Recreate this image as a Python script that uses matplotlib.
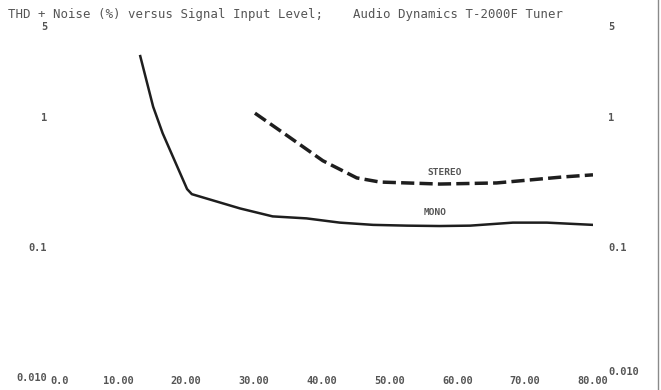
"""THD + Noise vs Signal Input Level — Audio Dynamics T-2000F Tuner (scan recreation)."""

import matplotlib

matplotlib.use("Agg")
import matplotlib.pyplot as plt
from matplotlib.lines import Line2D

# Signal input level (x) and THD + noise in % (y).
MONO_X = [13.3, 15.2, 16.6, 20.2, 20.9, 28.0, 32.8, 37.8, 42.7, 47.6, 52.6, 57.4,
          61.9, 68.2, 73.2, 80.0]
MONO_Y = [2.94, 1.20, 0.750, 0.279, 0.255, 0.198, 0.172, 0.166, 0.154, 0.148, 0.146,
          0.145, 0.146, 0.154, 0.154, 0.148]

STEREO_X = [30.2, 35.3, 40.2, 45.2, 48.6, 52.6, 57.4, 65.8, 70.7, 75.6, 80.0]
STEREO_Y = [1.07, 0.698, 0.461, 0.340, 0.316, 0.311, 0.305, 0.311, 0.328, 0.346, 0.359]

X_TICKS = [0, 10, 20, 30, 40, 50, 60, 70, 80]
X_LABELS = ["0.0", "10.00", "20.00", "30.00", "40.00", "50.00", "60.00", "70.00", "80.00"]
Y_TICKS = [0.01, 0.1, 1, 5]
Y_LABELS = ["0.010", "0.1", "1", "5"]

TITLE = "THD + Noise (%) versus Signal Input Level;    Audio Dynamics T-2000F Tuner"

INK = "#1e1e1e"
GREY = "#555555"
FONT = "DejaVu Sans Mono"

fig = plt.figure(figsize=(6.61, 3.90), dpi=100)
ax = fig.add_axes([0.0756, 0.0333, 0.8215, 0.8997])

ax.plot(MONO_X, MONO_Y, color=INK, lw=1.8, solid_joinstyle="round")
ax.plot(STEREO_X, STEREO_Y, color=INK, lw=2.5, dashes=(3.8, 1.5))

ax.text(58.2, 0.372, "STEREO", fontsize=6.8, color=GREY, family=FONT,
        ha="center", va="center", fontweight="bold")
ax.text(56.7, 0.185, "MONO", fontsize=6.8, color=GREY, family=FONT,
        ha="center", va="center", fontweight="bold")

ax.set_yscale("log")
ax.set_xlim(0, 80)
ax.set_ylim(0.01, 5)
ax.minorticks_off()
for s in ax.spines.values():
    s.set_visible(False)

ax.set_xticks(X_TICKS)
ax.set_xticklabels(X_LABELS)
ax.set_yticks(Y_TICKS)
ax.set_yticklabels(Y_LABELS)
ax.tick_params(length=0, labelsize=7.4, labelcolor=GREY, pad=2)
ax.tick_params(axis="x", pad=-1)
for lab in ax.get_xticklabels() + ax.get_yticklabels():
    lab.set_family(FONT)
    lab.set_fontweight("bold")
ax.get_xticklabels()[0].set_horizontalalignment("left")

ax2 = ax.twinx()
ax2.set_yscale("log")
ax2.set_ylim(ax.get_ylim())
ax2.minorticks_off()
ax2.set_yticks(Y_TICKS)
ax2.set_yticklabels(Y_LABELS)
ax2.tick_params(length=0, labelsize=7.4, labelcolor=GREY, pad=11)
for s in ax2.spines.values():
    s.set_visible(False)
for lab in ax2.get_yticklabels():
    lab.set_family(FONT)
    lab.set_fontweight("bold")
ax2.get_yticklabels()[0].set_verticalalignment("bottom")

fig.text(0.012, 0.962, TITLE, fontsize=8.9, color=GREY, family=FONT,
         ha="left", va="center")

# scanner edge on the right
fig.add_artist(Line2D([0.996, 0.996], [0, 1], transform=fig.transFigure,
                      color="#8a8a8a", lw=1))

fig.savefig("out.png", dpi=100)
